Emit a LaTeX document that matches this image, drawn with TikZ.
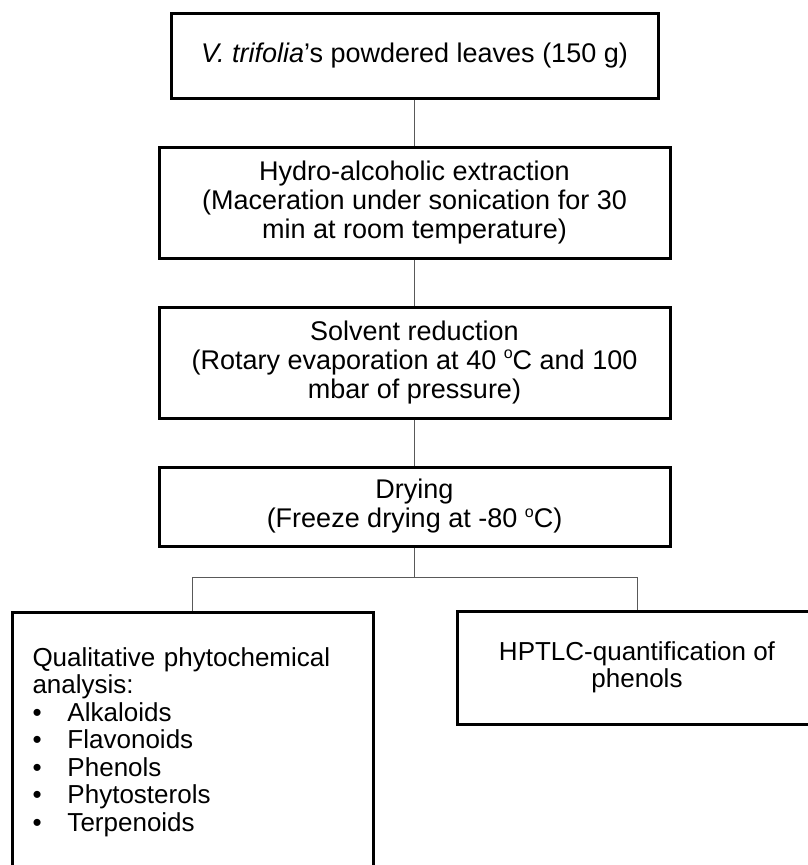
\documentclass[tikz,border=0pt]{standalone}
\usepackage{fontspec}
\setmainfont{Liberation Sans}
\tikzset{
  procbox/.style={draw, line width=3pt, minimum width=511pt, minimum height=111pt, align=center, inner sep=0pt, font=\fontsize{27}{29}\selectfont},
  endbox/.style={draw, line width=3pt, minimum width=360pt, align=center, inner sep=0pt, font=\fontsize{26}{27.5}\selectfont},
  link/.style={draw=black!65, line width=1pt}
}
\newcommand{\bulletitem}[1]{\makebox[35pt][l]{\textbullet}#1}
\newcommand{\dego}{\raisebox{0.75ex}{\fontsize{16}{16}\selectfont o}}

\begin{document}
\begin{tikzpicture}[x=1pt, y=-1pt]
  \useasboundingbox (0,0) rectangle (808,865);
  \clip (0,0) rectangle (808,865);
  \node[procbox, minimum width=487pt, minimum height=85pt] (leaves) at (414.5,55.5) {\textit{V. trifolia}'s powdered leaves (150 g)};
  \node[procbox] (extract) at (414.5,202.5) {Hydro-alcoholic extraction\\(Maceration under sonication for 30\\min at room temperature)};
  \node[procbox] (reduce) at (414.5,362.5) {Solvent reduction\\(Rotary evaporation at 40 \dego C and 100\\mbar of pressure)};
  \node[procbox, minimum height=79pt] (dry) at (414.5,506.5) {Drying\\(Freeze drying at -80 \dego C)};
  \node[endbox, minimum width=361pt, minimum height=260pt, text width=320pt, align=left] (qual) at (192.5,742) {Qualitative phytochemical\\analysis:\\\bulletitem{Alkaloids}\\\bulletitem{Flavonoids}\\\bulletitem{Phenols}\\\bulletitem{Phytosterols}\\\bulletitem{Terpenoids}};
  \node[endbox, minimum height=113pt] (hptlc) at (637,667.5) {HPTLC-quantification of\\phenols};
  \coordinate (split) at (414.5,577);
  \draw[link] (leaves) -- (extract);
  \draw[link] (extract) -- (reduce);
  \draw[link] (reduce) -- (dry);
  \draw[link] (dry) -- (split);
  \draw[link] (split) -| (qual);
  \draw[link] (split) -| (hptlc);
\end{tikzpicture}
\end{document}
